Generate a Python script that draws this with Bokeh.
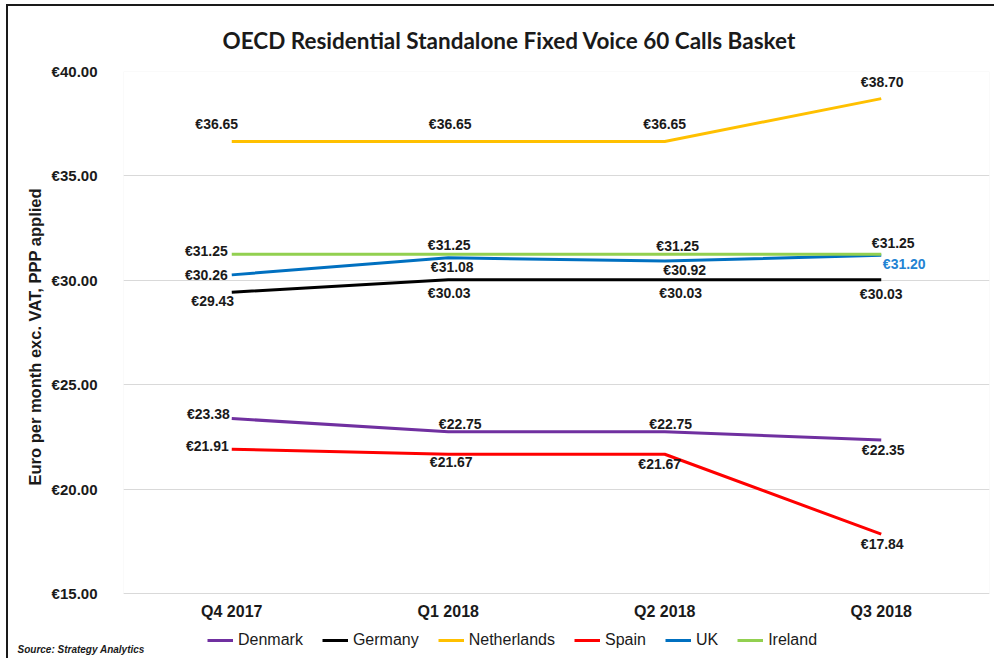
from bokeh.plotting import figure
from bokeh.models import ColumnDataSource, Legend, LegendItem, Title, Label, FactorRange, CustomJSTickFormatter, BoxAnnotation
from bokeh.core.properties import value
from bokeh.embed import file_html
from bokeh.resources import INLINE

# ---- data ----
quarters = ["Q4 2017", "Q1 2018", "Q2 2018", "Q3 2018"]
denmark = [23.38, 22.75, 22.75, 22.35]
germany = [29.43, 30.03, 30.03, 30.03]
netherlands = [36.65, 36.65, 36.65, 38.70]
spain = [21.91, 21.67, 21.67, 17.84]
uk = [30.26, 31.08, 30.92, 31.20]
ireland = [31.25, 31.25, 31.25, 31.25]
series_names = ["Denmark", "Germany", "Netherlands", "Spain", "UK", "Ireland"]
y_ticks = [15, 20, 25, 30, 35, 40]

series_values = [denmark, germany, netherlands, spain, uk, ireland]
colors = ["#7030A0", "#000000", "#FFC000", "#FF0000", "#0070C0", "#92D050"]

# label placement (screen px offsets relative to each point; dy positive = down)
label_style = {
    "Denmark":     {"dx": [-2, 12, 6, 2],   "dy": [-5, -8, -8, 10],  "align": ["right", "center", "center", "center"]},
    "Germany":     {"dx": [-19, 1, 16, 0],  "dy": [9, 13, 13, 14],   "align": ["center", "center", "center", "center"]},
    "Netherlands": {"dx": [-15, 2, 0, 1],   "dy": [-17, -17, -17, -17], "align": ["center", "center", "center", "center"]},
    "Spain":       {"dx": [-3, 3, -5, 1],   "dy": [-3, 8, 10, 10],   "align": ["right", "center", "center", "center"]},
    "UK":          {"dx": [-4, 4, 20, 23],  "dy": [0, 9, 9, 9],      "align": ["right", "center", "center", "center"]},
    "Ireland":     {"dx": [-4, 1, 13, 12],  "dy": [-3, -9, -8, -11], "align": ["right", "center", "center", "center"]},
}
label_colors = {"UK": ["#1a1a1a", "#1a1a1a", "#1a1a1a", "#2383D3"]}

# visible plot area is 15..40; the frame continues below it to host the legend
y_bottom = 12.318

p = figure(width=988, height=654, x_range=FactorRange(*quarters, range_padding=0),
           y_range=(y_bottom, 40), output_backend="svg", toolbar_location=None,
           min_border_left=115, min_border_right=7, min_border_top=65, min_border_bottom=0)
p.x_range.range_padding = 0
p.styles = {"margin-left": "6px", "margin-top": "4px",
            "border-left": "2px solid #1a1a1a", "border-top": "2px solid #1a1a1a"}

p.outline_line_color = None
p.xgrid.grid_line_color = None
p.ygrid.grid_line_color = "#d9d9d9"
p.ygrid.grid_line_width = 1
p.add_layout(BoxAnnotation(bottom=15, top=40, fill_alpha=0, line_color="#d9d9d9",
                           line_width=1, level="underlay"))

p.yaxis.ticker = y_ticks
p.yaxis.formatter = CustomJSTickFormatter(code="return '\u20ac' + tick.toFixed(2);")
p.xaxis.fixed_location = 15
for ax in (p.xaxis[0], p.yaxis[0]):
    ax.axis_line_color = None
    ax.major_tick_line_color = None
    ax.minor_tick_line_color = None
    ax.major_label_text_font = "Liberation Sans"
    ax.major_label_text_font_style = "bold"
    ax.major_label_text_color = "#1a1a1a"
    ax.major_label_text_font_size = "15px"
p.xaxis.major_label_text_font_size = "16px"
p.yaxis.major_label_standoff = 20
p.xaxis.major_label_standoff = 4

# y axis title, centred on the visible 15..40 plot area
p.add_layout(Title(text="Euro per month exc. VAT, PPP applied", align="left", offset=164,
                   standoff=9, text_font="Liberation Sans", text_font_style="bold",
                   text_font_size="16.5px", text_color="#1a1a1a"), "left")

items = []
for name, vals, col in zip(series_names, series_values, colors):
    src = ColumnDataSource(dict(x=quarters, y=vals))
    r = p.line("x", "y", source=src, line_color=col, line_width=3)
    items.append(LegendItem(label=name, renderers=[r]))
    st = label_style[name]
    lsrc = ColumnDataSource(dict(
        x=quarters, y=vals,
        text=["\u20ac%.2f" % v for v in vals],
        dx=st["dx"], dy=st["dy"], align=st["align"],
        color=label_colors.get(name, ["#1a1a1a"] * 4),
    ))
    p.text("x", "y", text="text", source=lsrc, x_offset="dx", y_offset="dy",
           text_align="align", text_baseline="middle", text_color="color",
           text_font=value("Liberation Sans"), text_font_style="bold", text_font_size="14px")

legend = Legend(items=items, orientation="horizontal", location=(84, 0),
                glyph_width=26, glyph_height=16, label_height=16, label_standoff=5,
                spacing=19, padding=0, margin=0,
                border_line_color=None, background_fill_alpha=0,
                label_text_font="Liberation Sans", label_text_font_size="16px",
                label_text_color="#1a1a1a")
p.add_layout(legend, "center")

p.title = Title(text="OECD Residential Standalone Fixed Voice 60 Calls Basket",
                align="left", offset=99, standoff=35, text_font="Lato",
                text_font_style="bold", text_font_size="22.5px", text_color="#1a1a1a")

p.add_layout(Label(x=-106, y=6, x_units="screen", y_units="screen",
                   text="Source:  Strategy Analytics", text_align="left", text_baseline="bottom",
                   text_font="Liberation Sans", text_font_style="bold italic",
                   text_font_size="10px", text_color="#1a1a1a"), "below")

open("out.html", "w").write(file_html(p, INLINE))
